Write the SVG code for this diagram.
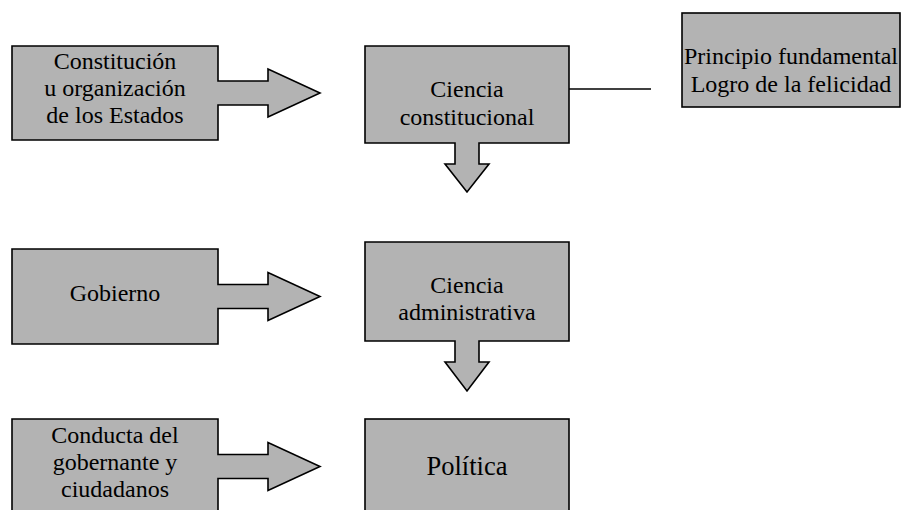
<svg xmlns="http://www.w3.org/2000/svg" width="902" height="510" viewBox="0 0 902 510">
  <style>
    .shape { fill: #b3b3b3; stroke: #000; stroke-width: 1.6; stroke-linejoin: miter; }
    .label { font-size: 24px; fill: #000; text-anchor: middle; }
    .big { font-size: 26.5px; }
    .link { stroke: #000; stroke-width: 1.6; fill: none; }
  </style>
  <rect width="902" height="510" fill="#fff"/>

  <!-- connectors -->
  <g id="connectors">
    <line class="link" x1="569" y1="89" x2="651" y2="89"/>
  </g>

  <g font-family="Liberation Serif, Tinos, Times New Roman, DejaVu Serif, serif">
  <!-- row 1 -->
  <g id="constitucion">
    <path class="shape" d="M12,46 H218 V81 H268 V69 L320,93 L268,117 V105 H218 V140 H12 Z"/>
    <text class="label" x="115" y="69">Constitución</text>
    <text class="label" x="115" y="96">u organización</text>
    <text class="label" x="115" y="123">de los Estados</text>
  </g>

  <g id="ciencia-constitucional">
    <path class="shape" d="M365,46 H569 V143 H479 V164 H489 L467,192 L445,164 H455 V143 H365 Z"/>
    <text class="label" x="467" y="97">Ciencia</text>
    <text class="label" x="467" y="125">constitucional</text>
  </g>

  <g id="principio">
    <rect class="shape" x="682" y="13" width="218" height="94"/>
    <text class="label" x="791" y="64">Principio fundamental</text>
    <text class="label" x="791" y="92">Logro de la felicidad</text>
  </g>

  <!-- row 2 -->
  <g id="gobierno">
    <path class="shape" d="M12,249 H218 V284.5 H268 V272.5 L320,296.5 L268,320.5 V308.5 H218 V344 H12 Z"/>
    <text class="label" x="115" y="301">Gobierno</text>
  </g>

  <g id="ciencia-administrativa">
    <path class="shape" d="M365,242 H569 V341 H479 V362 H489 L467,391 L445,362 H455 V341 H365 Z"/>
    <text class="label" x="467" y="293">Ciencia</text>
    <text class="label" x="467" y="320">administrativa</text>
  </g>

  <!-- row 3 -->
  <g id="conducta">
    <path class="shape" d="M12,419 H218 V454.5 H268 V442.5 L320,466.5 L268,490.5 V478.5 H218 V520 H12 Z"/>
    <text class="label" x="115" y="443">Conducta del</text>
    <text class="label" x="115" y="470">gobernante y</text>
    <text class="label" x="115" y="497">ciudadanos</text>
  </g>

  <g id="politica">
    <rect class="shape" x="365" y="419" width="204" height="101"/>
    <text class="label big" x="467" y="475">Política</text>
  </g>
  </g>
</svg>
